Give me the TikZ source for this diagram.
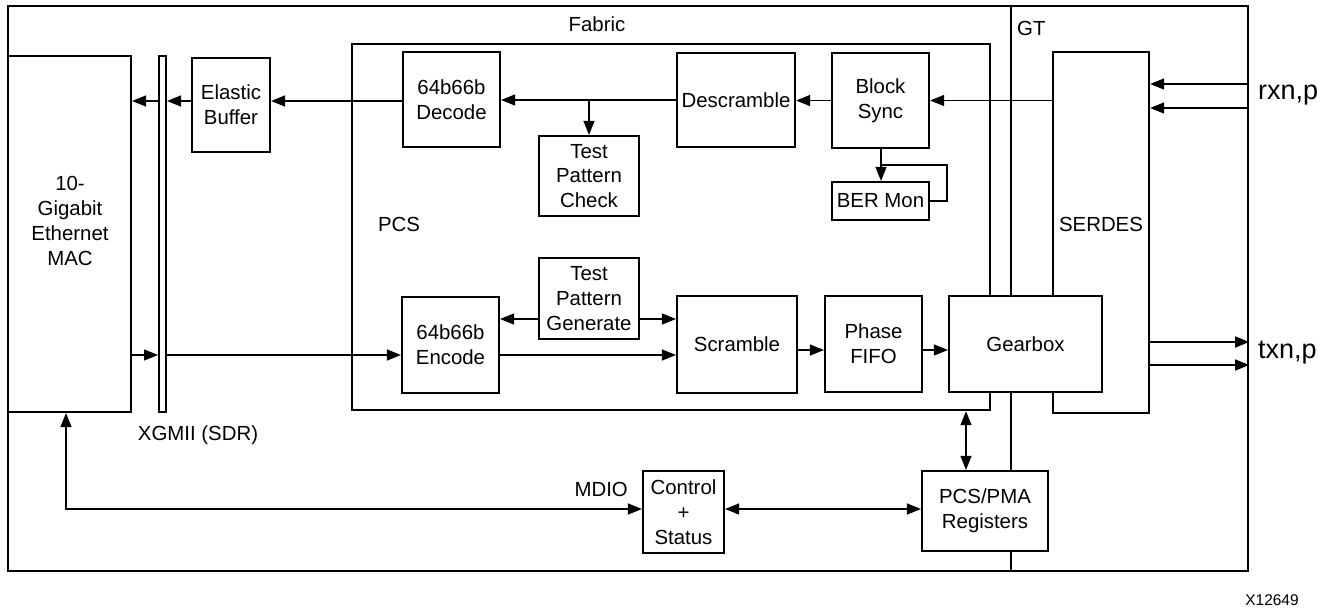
\documentclass[tikz,border=0pt]{standalone}
\usepackage{fontspec}
\setmainfont{Liberation Sans}
\usetikzlibrary{arrows.meta}
\begin{document}
\begin{tikzpicture}[x=1pt,y=-1pt,
  box/.style={draw, line width=2.2pt, fill=white, inner sep=0pt, align=center,
    font=\fontsize{20.4}{24.7}\selectfont},
  frame/.style={draw, line width=2.4pt, inner sep=0pt},
  lbl/.style={inner sep=0pt, align=center, font=\fontsize{20.4}{24.7}\selectfont},
  big/.style={inner sep=0pt, font=\fontsize{27}{32}\selectfont},
  tip/.tip={Triangle[length=14pt,width=11pt]},
  arr/.style={-tip, line width=1.2pt},
  dbl/.style={tip-tip, line width=1.2pt},
  fbline/.style={line width=1.2pt}]
\useasboundingbox (0,0) rectangle (1332,608);
% frames
\node[frame, minimum width=1240pt, minimum height=565pt] (outer) at (628,288.5) {};
\draw[line width=2.4pt] (outer.north -| 1011,0) -- (outer.south -| 1011,0);
\node[frame, minimum width=638pt, minimum height=366pt] (pcs) at (671,227) {};
\node[box, minimum width=96pt, minimum height=361pt] (serdes) at (1101,232.5) {};
\node[lbl] (serdeslbl) at (1101,224) {SERDES};
\node[lbl] (fabric) at (597,24) {Fabric};
\node[lbl, anchor=west] (gt) at (1017,28) {GT};
\node[lbl] (pcslbl) at (399,224) {PCS};
% left side
\node[box, minimum width=123pt, minimum height=356pt] (mac) at (69.5,234) {};
\node[lbl] (maclbl) at (70,221) {10-\\Gigabit\\Ethernet\\MAC};
\node[box, line width=2pt, minimum width=7pt, minimum height=356pt] (xg) at (162.5,234) {};
\node[lbl] (xglbl) at (198,435) {XGMII (SDR)};
\node[box, minimum width=78pt, minimum height=94pt] (eb) at (231,105) {Elastic\\Buffer};
% receive path
\node[box, minimum width=97pt, minimum height=95pt] (dec) at (451.5,99.5) {64b66b\\Decode};
\node[box, minimum width=118pt, minimum height=94pt] (ds) at (736,100) {Descramble};
\node[box, minimum width=100pt, minimum height=80pt] (tpc) at (589,176) {Test\\Pattern\\Check};
\node[box, minimum width=97pt, minimum height=95pt] (bs) at (880.5,100.5) {Block\\Sync};
\node[box, minimum width=97pt, minimum height=38pt] (ber) at (880.5,201) {BER Mon};
% transmit path
\node[box, minimum width=97pt, minimum height=96pt] (enc) at (450.5,345) {64b66b\\Encode};
\node[box, minimum width=100pt, minimum height=81pt] (tpg) at (589,298.5) {Test\\Pattern\\Generate};
\node[box, minimum width=120pt, minimum height=97pt] (scr) at (737,344.5) {Scramble};
\node[box, minimum width=97pt, minimum height=96pt] (pf) at (873.5,344) {Phase\\FIFO};
\node[box, minimum width=153pt, minimum height=96pt] (gear) at (1025.5,344) {Gearbox};
% management
\node[box, minimum width=81pt, minimum height=82pt] (ctl) at (683.5,512) {Control\\+\\Status};
\node[box, minimum width=126pt, minimum height=80pt] (regs) at (985,511) {PCS/PMA\\Registers};
\node[lbl, anchor=east] (mdio) at (628,489) {MDIO};
% pins
\node[big, anchor=west] (rxn) at (1258,95) {rxn,p};
\node[big, anchor=west] (txn) at (1258,353) {txn,p};
\node[inner sep=0pt, font=\fontsize{15.5}{18}\selectfont] (xid) at (1272,600) {X12649};
% coordinates
\coordinate (yrx) at (0,101);
\coordinate (ytx) at (0,355);
\coordinate (ytp) at (0,319);
\coordinate (ysc) at (0,350);
\coordinate (ymd) at (0,509);
\coordinate (fb) at (947,165);
% receive connectors
\draw[arr] (serdes.west |- bs.east) -- (bs.east);
\draw[arr] (bs.west) -- (ds.east |- bs.west);
\draw[arr] (ds.west) -- (dec.east |- ds.west);
\draw[arr] (tpc.north |- ds.west) -- (tpc.north);
\draw[arr] (bs.south -| 881,0) -- (ber.north -| 881,0);
\draw[fbline] (ber.east) -| (fb) -- (fb -| 881,0);
\draw[arr] (dec.west |- yrx) -- (eb.east |- yrx);
\draw[arr] (eb.west |- yrx) -- (xg.east |- yrx);
\draw[arr] (xg.west |- yrx) -- (mac.east |- yrx);
% rx / tx pins
\draw[arr] (outer.east |- 0,84) -- (serdes.east |- 0,84);
\draw[arr] (outer.east |- 0,108) -- (serdes.east |- 0,108);
\draw[arr] (serdes.east |- 0,342) -- (outer.east |- 0,342);
\draw[arr] (serdes.east |- 0,365) -- (outer.east |- 0,365);
% transmit connectors
\draw[arr] (mac.east |- ytx) -- (xg.west |- ytx);
\draw[arr] (xg.east |- ytx) -- (enc.west |- ytx);
\draw[arr] (enc.east |- ytx) -- (scr.west |- ytx);
\draw[arr] (tpg.west |- ytp) -- (enc.east |- ytp);
\draw[arr] (tpg.east |- ytp) -- (scr.west |- ytp);
\draw[arr] (scr.east |- ysc) -- (pf.west |- ysc);
\draw[arr] (pf.east |- ysc) -- (gear.west |- ysc);
% management connectors
\draw[dbl] (pcs.south -| 966,0) -- (regs.north -| 966,0);
\draw[dbl] (ctl.east |- ymd) -- (regs.west |- ymd);
\draw[dbl] (mac.south -| 66,0) |- (ctl.west |- ymd);
\end{tikzpicture}
\end{document}
